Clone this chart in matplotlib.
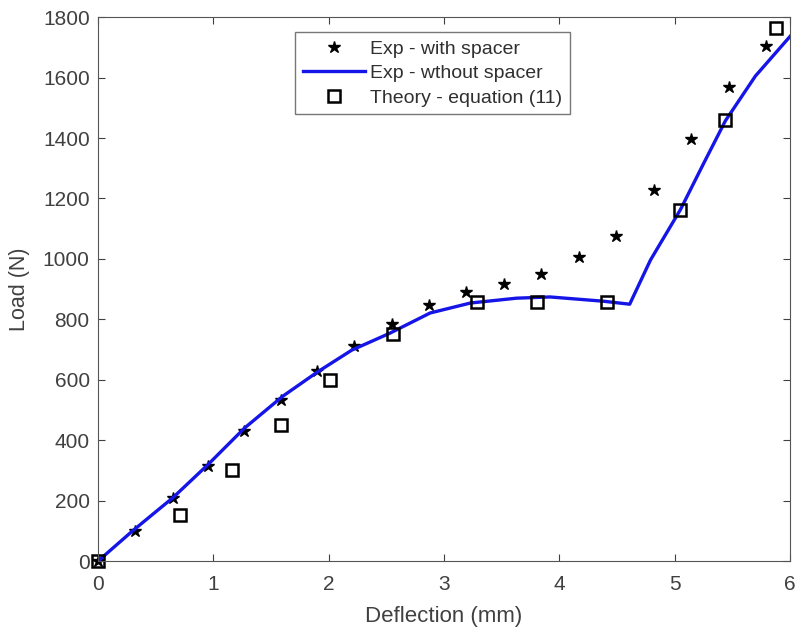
import matplotlib
matplotlib.use('Agg')
import matplotlib.pyplot as plt

plt.rcParams['font.family'] = ['Liberation Sans', 'DejaVu Sans']

# Exp - with spacer (stars)
x_spacer = [0.0, 0.32, 0.65, 0.95, 1.27, 1.59, 1.90, 2.22, 2.55, 2.87, 3.19, 3.52,
            3.84, 4.17, 4.49, 4.82, 5.14, 5.47, 5.79]
y_spacer = [0, 99, 208, 314, 430, 533, 629, 711, 784, 847, 890, 917,
            950, 1006, 1075, 1228, 1396, 1568, 1704]

# Exp - without spacer (line)
x_nospacer = [0.0, 0.3, 0.65, 0.95, 1.27, 1.6, 1.9, 2.2, 2.53, 2.88, 3.23, 3.63,
              3.92, 4.38, 4.61, 4.79, 5.05, 5.25, 5.44, 5.7, 6.0]
y_nospacer = [0, 100, 210, 318, 440, 545, 625, 698, 754, 821, 854, 870,
              874, 860, 850, 996, 1163, 1315, 1457, 1605, 1736]

# Theory - equation (11) (squares)
x_theory = [0.0, 0.71, 1.16, 1.59, 2.01, 2.56, 3.29, 3.81, 4.41, 5.05, 5.44, 5.88]
y_theory = [0, 152, 301, 450, 599, 751, 857, 857, 857, 1161, 1459, 1764]

fig = plt.figure(figsize=(8, 6.34), dpi=100)
ax = fig.add_axes([0.1225, 0.115, 0.865, 0.858])

ax.plot(x_spacer, y_spacer, 'k*', ms=9, label='Exp - with spacer', clip_on=False)
ax.plot(x_nospacer, y_nospacer, color='#1515e8', lw=2.4, label='Exp - wthout spacer')
ax.plot(x_theory, y_theory, 'ks', ms=9, mfc='none', mew=1.8,
        label='Theory - equation (11)', clip_on=False)

ax.set_xlim(0, 6)
ax.set_ylim(0, 1800)
ax.set_xticks(range(0, 7))
ax.set_yticks(range(0, 1801, 200))
ax.tick_params(direction='in', top=True, right=True, labelsize=15,
               colors='#404040', length=5)
ax.tick_params(axis='x', pad=10)
ax.tick_params(axis='y', pad=6)
for s in ax.spines.values():
    s.set_color('#555555')
ax.set_xlabel('Deflection (mm)', fontsize=16, color='#404040', labelpad=9)
ax.set_ylabel('Load (N)', fontsize=15.5, color='#404040', labelpad=9)

leg = ax.legend(loc='upper center', bbox_to_anchor=(0.483, 0.972), fontsize=14,
                frameon=True, fancybox=False, edgecolor='#555555',
                handlelength=3.2, borderpad=0.4, labelspacing=0.35,
                handletextpad=0.25, borderaxespad=0)
leg.get_frame().set_linewidth(1.0)
for t in leg.get_texts():
    t.set_color('#303030')

fig.savefig('out.png', dpi=100)
